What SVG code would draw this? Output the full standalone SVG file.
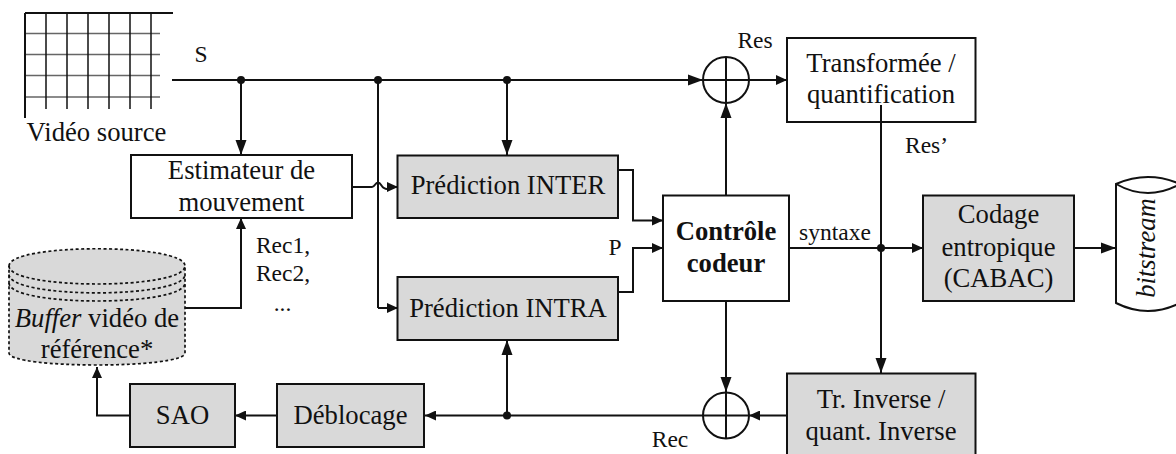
<svg xmlns="http://www.w3.org/2000/svg" width="1176" height="454" viewBox="0 0 1176 454">
<style>
text{font-family:"Liberation Serif","Times New Roman",serif;font-size:26.67px;fill:#111;text-anchor:middle}
.s{font-size:23.5px}
.b{fill:#fff;stroke:#111;stroke-width:2}
.g{fill:#d9d9d9;stroke:#111;stroke-width:2}
.l{fill:none;stroke:#111;stroke-width:2}
.a{fill:none;stroke:#111;stroke-width:2;marker-end:url(#ah)}
.m{fill:none;stroke:#111;stroke-width:2;marker-end:url(#am)}
.d{fill:#111}
.gr{stroke:#666;stroke-width:1.5}
.v{stroke:#111;stroke-width:1.5}
.dash{stroke:#111;stroke-width:1.7;stroke-dasharray:3 2.5}
</style>
<defs>
<marker id="ah" markerUnits="userSpaceOnUse" markerWidth="16" markerHeight="12" refX="15" refY="6" orient="auto"><path d="M0,0.500L15,6L0,11.500z" fill="#111"/></marker>
<marker id="am" markerUnits="userSpaceOnUse" markerWidth="12" markerHeight="10" refX="11" refY="5" orient="auto"><path d="M0,0L11,5L0,10z" fill="#111"/></marker>
</defs>
<rect width="1176" height="454" fill="#fff"/>
<g id="video-source">
<path class="gr" d="M25 33.500H160M25 54.500H160M25 75.500H160M25 97H160"/>
<path class="v" d="M46 13V109M67 13V109M88 13V109M109 13V109M130 13V109M151 13V109"/>
<path class="l" d="M25 13H173M25 13V118"/>
<text x="96.500" y="141">Vidéo source</text>
</g>
<g id="connectors">
<path class="a" d="M172 80H703"/>
<path class="m" d="M749 80H787"/>
<path class="a" d="M241 80V155"/>
<path class="l" d="M378 80V308"/>
<path class="m" d="M378 308H398"/>
<path class="a" d="M507 80V155"/>
<path class="m" d="M352 187H372C375 187 375 182.500 378 182.500C381 182.500 381 187 384 188C387 190 389 189 391 187H398"/>
<path class="m" d="M185 308H241V218"/>
<path class="m" d="M618 170H633V220.500H663"/>
<path class="m" d="M618 292H633V248H663"/>
<path class="a" d="M726 195V103"/>
<path class="a" d="M726 301V392"/>
<path class="m" d="M787 415.500H749"/>
<path class="m" d="M277 415.500H235"/>
<path class="m" d="M130 415.500H97V367"/>
<path class="m" d="M703 415.500H425"/>
<path class="a" d="M507 415.500V340"/>
<path class="a" d="M881 105V373"/>
<path class="m" d="M789 248H923"/>
<path class="a" d="M1074 248H1116"/>
<circle class="d" cx="241" cy="80" r="4"/>
<circle class="d" cx="378" cy="80" r="4"/>
<circle class="d" cx="507" cy="80" r="4"/>
<circle class="d" cx="507" cy="415.500" r="4"/>
<circle class="d" cx="881" cy="248" r="4"/>
</g>
<g id="sum-top"><circle class="l" cx="726" cy="80" r="23"/><path class="l" d="M703 80H749M726 57V103"/></g>
<g id="sum-bottom"><circle class="l" cx="726" cy="415.500" r="23"/><path class="l" d="M703 415.500H749M726 392.500V438.500"/></g>
<g id="estimateur"><rect class="b" x="131" y="155" width="221" height="63"/><text x="241.500" y="179">Estimateur de</text><text x="241.500" y="211">mouvement</text></g>
<g id="inter"><rect class="g" x="397.500" y="155.500" width="220.500" height="62.500"/><text x="508" y="194">Prédiction INTER</text></g>
<g id="intra"><rect class="g" x="397.500" y="277" width="220.500" height="63"/><text x="508" y="317">Prédiction INTRA</text></g>
<g id="controle"><rect class="b" x="663" y="195.500" width="126" height="105.500"/><text x="726" y="240" font-weight="bold">Contrôle</text><text x="726" y="272" font-weight="bold">codeur</text></g>
<g id="transformee"><rect class="b" x="787" y="38" width="188.500" height="84"/><text x="881" y="72">Transformée /</text><text x="881" y="103">quantification</text><path class="l" d="M881 105V122"/></g>
<g id="codage"><rect class="g" x="923" y="195.500" width="151" height="105.500"/><text x="998.500" y="223">Codage</text><text x="998.500" y="256">entropique</text><text x="998.500" y="287">(CABAC)</text></g>
<g id="inverse"><rect class="g" x="787" y="373.500" width="188.500" height="84"/><text x="881" y="408">Tr. Inverse /</text><text x="881" y="440">quant. Inverse</text></g>
<g id="sao"><rect class="g" x="130" y="384" width="105" height="63"/><text x="182.500" y="424">SAO</text></g>
<g id="deblocage"><rect class="g" x="277" y="384" width="147" height="63"/><text x="350.500" y="424">Déblocage</text></g>
<g id="buffer">
<path class="dash" d="M9 266C9 243 185 243 185 266V353C185 369 9 369 9 353Z" fill="#d9d9d9"/>
<path class="dash" fill="none" d="M9 266C9 290 185 290 185 266M9 274.500C9 299 185 299 185 274.500M9 283C9 307 185 307 185 283"/>
<text x="97" y="327"><tspan font-style="italic">Buffer</tspan> vidéo de</text><text x="97" y="358">référence*</text>
</g>
<g id="bitstream">
<path class="b" d="M1116 184Q1148 170 1180 184V303Q1148 319 1116 303Z"/>
<path class="l" d="M1116 184Q1148 202 1180 184"/>
<text transform="translate(1155 248) rotate(-90)" font-style="italic">bitstream</text>
</g>
<g id="labels">
<text class="s" x="201" y="62">S</text>
<text class="s" x="755" y="48">Res</text>
<text class="s" x="926.500" y="153">Res’</text>
<text class="s" x="615" y="255">P</text>
<text class="s" x="835" y="240">syntaxe</text>
<text class="s" x="283" y="253">Rec1,</text>
<text class="s" x="283" y="281">Rec2,</text>
<text class="s" x="282.500" y="311">...</text>
<text class="s" x="670" y="447">Rec</text>
</g>
</svg>
